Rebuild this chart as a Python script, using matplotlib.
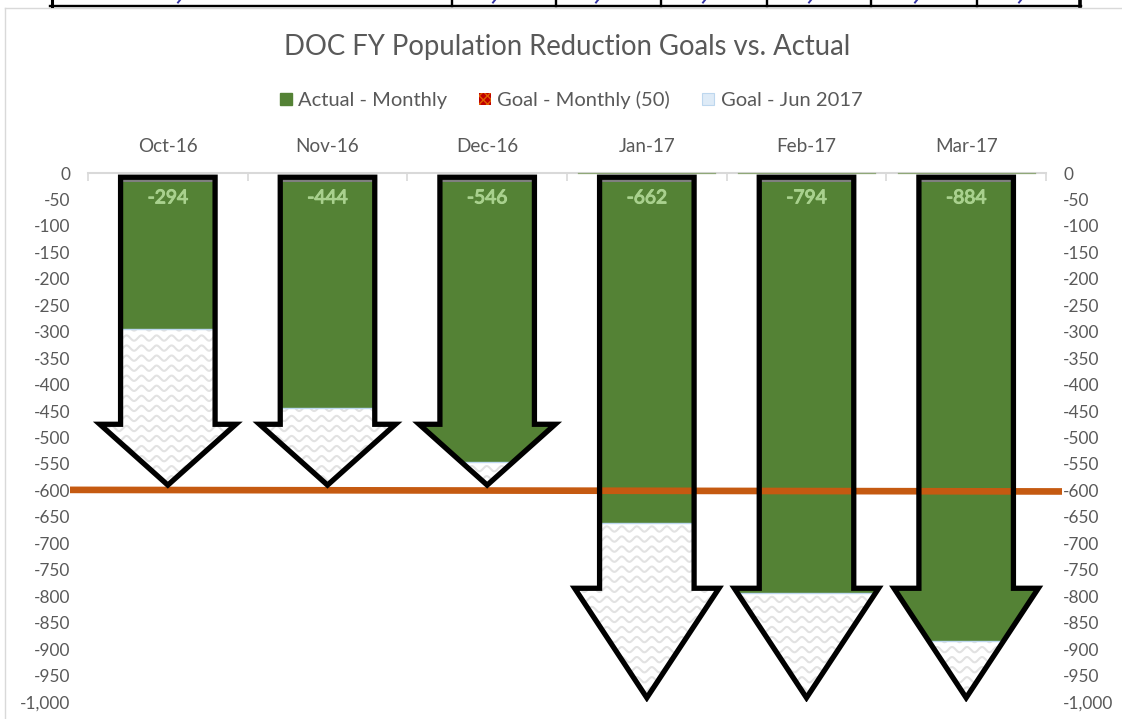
import numpy as np
import matplotlib
matplotlib.use("Agg")
import matplotlib.pyplot as plt
import matplotlib.patheffects as pe
from matplotlib.patches import Polygon, Rectangle, Patch
from matplotlib.lines import Line2D
from matplotlib.ticker import FuncFormatter

months = ["Oct-16", "Nov-16", "Dec-16", "Jan-17", "Feb-17", "Mar-17"]
actual = [-294, -444, -546, -662, -794, -884]
arrow_tip = [-590, -590, -590, -992, -992, -992]
arrow_head = [-475, -475, -475, -785, -785, -785]
goal_line = [-599, -602]
title = "DOC FY Population Reduction Goals vs. Actual"
legend_labels = ["Actual - Monthly", "Goal - Monthly (50)", "Goal - Jun 2017"]

GREEN, ORANGE, TEXT = "#548235", "#C55A11", "#595959"
W, H = 1122, 719
plt.rcParams["font.family"] = ["Lato", "DejaVu Sans"]
plt.rcParams["hatch.linewidth"] = 1.0

fig = plt.figure(figsize=(W / 100, H / 100), dpi=100, facecolor="white")
L, R, T, B = 88, 1046, 173, 702
ax = fig.add_axes([L / W, 1 - B / H, (R - L) / W, (B - T) / H])
ax.set_xlim(-0.5, 5.5)
ax.set_ylim(-1000, 0)
ax.patch.set_alpha(0)

for s in ["left", "right", "bottom"]:
    ax.spines[s].set_visible(False)
ax.spines["top"].set_color("#D9D9D9")
ax.spines["top"].set_linewidth(1.5)

x = np.arange(len(months))
ax.xaxis.tick_top()
ax.set_xticks(x, months)
ax.set_xticks(np.arange(-0.5, 6), minor=True)
ax.tick_params(axis="x", which="major", length=0, pad=13, labelsize=13.6, labelcolor=TEXT)
ax.tick_params(axis="x", which="minor", length=6, width=1.2, direction="in", color="#D9D9D9")
ax.set_yticks(np.arange(-1000, 1, 50))
ax.yaxis.set_major_formatter(FuncFormatter(lambda v, _: f"{int(v):,}"))
ax.tick_params(axis="y", length=0, labelsize=12.4, labelcolor=TEXT, pad=12.5,
               left=False, right=False, labelleft=True, labelright=True)

SHAFT, TOP = 0.296, -8
for i, (a, tip, head) in enumerate(zip(actual, arrow_tip, arrow_head)):
    WING = 0.426 if tip > -800 else 0.452
    outline = [(i - SHAFT, TOP), (i + SHAFT, TOP), (i + SHAFT, head), (i + WING, head),
               (i, tip), (i - WING, head), (i - SHAFT, head)]
    body = Polygon(outline, closed=True, facecolor="white", edgecolor="none", zorder=1)
    ax.add_patch(body)
    # zigzag pattern of the "Goal - Jun 2017" fill
    wx = np.linspace(i - WING, i + WING, 240)
    for row in np.arange(TOP, tip, -19):
        wave, = ax.plot(wx, row + 5 * np.sin(2 * np.pi * wx / 0.094), color="#E2E2E2",
                        lw=1.5, zorder=2)
        wave.set_clip_path(body)
    bar = Rectangle((i - WING, a), 2 * WING, TOP - a, facecolor=GREEN, edgecolor="none", zorder=3)
    ax.add_patch(bar)
    bar.set_clip_path(body)
    edge, = ax.plot([i - WING, i + WING], [a, a], color="#BDD7EE", lw=1, zorder=3.1)
    edge.set_clip_path(body)
    ax.plot([i - SHAFT, i + SHAFT], [TOP - 6, TOP - 6], color="#7F7F7F", lw=2.2, zorder=3.2)
    ax.add_patch(Polygon(outline, closed=True, fill=False, edgecolor="black", lw=3.8,
                         joinstyle="miter", zorder=5))
    ax.text(i, -47, str(a), ha="center", va="center", color="#A9D18E", fontsize=13.8,
            zorder=6, path_effects=[pe.withStroke(linewidth=0.8, foreground="#A9D18E")])

# thin green traces on the axis for Jan-Mar
for i in x[3:]:
    ax.plot([i - 0.43, i + 0.43], [0, 0], color="#8FA878", lw=0.9, zorder=4, clip_on=False)

# goal line, running past the plot area
ax.plot([-0.5 - 18 / 159.7, 5.5 + 16 / 159.7], goal_line, color=ORANGE, lw=4.8,
        solid_capstyle="butt", zorder=4, clip_on=False)

fig.text(567 / W, 1 - 47 / H, title, ha="center", va="center", fontsize=19.8, color=TEXT)

handles = [Patch(facecolor=GREEN, edgecolor=GREEN),
           Patch(facecolor="#C00000", edgecolor="#E06000", hatch="xxxx", lw=0),
           Patch(facecolor="#DEEBF7", edgecolor="#BDD7EE", hatch="v", lw=0.8)]
leg = fig.legend(handles, legend_labels, loc="center", bbox_to_anchor=(571 / W, 1 - 100 / H), ncol=3,
                 frameon=False, fontsize=14.5, labelcolor=TEXT, handlelength=0.6, handleheight=0.6,
                 handletextpad=0.3, columnspacing=1.6)

# chart frame and the bottom of the table above the chart
frame = "#D9D9D9"
fig.add_artist(Line2D([5 / W, 5 / W], [0, 1 - 8 / H], color=frame, lw=1))
fig.add_artist(Line2D([5 / W, 1], [1 - 8 / H, 1 - 8 / H], color=frame, lw=1))
fig.add_artist(Line2D([50 / W, 1081 / W], [1 - 6 / H, 1 - 6 / H], color="black", lw=1.7))
for px, lw in [(52, 2.2), (452, 1.7), (556, 1.7), (661, 1.7), (767, 1.7), (871, 1.7), (977, 1.7), (1080, 2.6)]:
    fig.add_artist(Line2D([px / W, px / W], [1 - 6 / H, 1], color="black", lw=lw))
for px in [180, 495, 598, 705, 811, 917, 1021]:
    fig.add_artist(Line2D([px / W, (px - 2) / W], [1, 1 - 2.5 / H], color="#3535A5", lw=1.4))

fig.savefig("out.png", dpi=100)
